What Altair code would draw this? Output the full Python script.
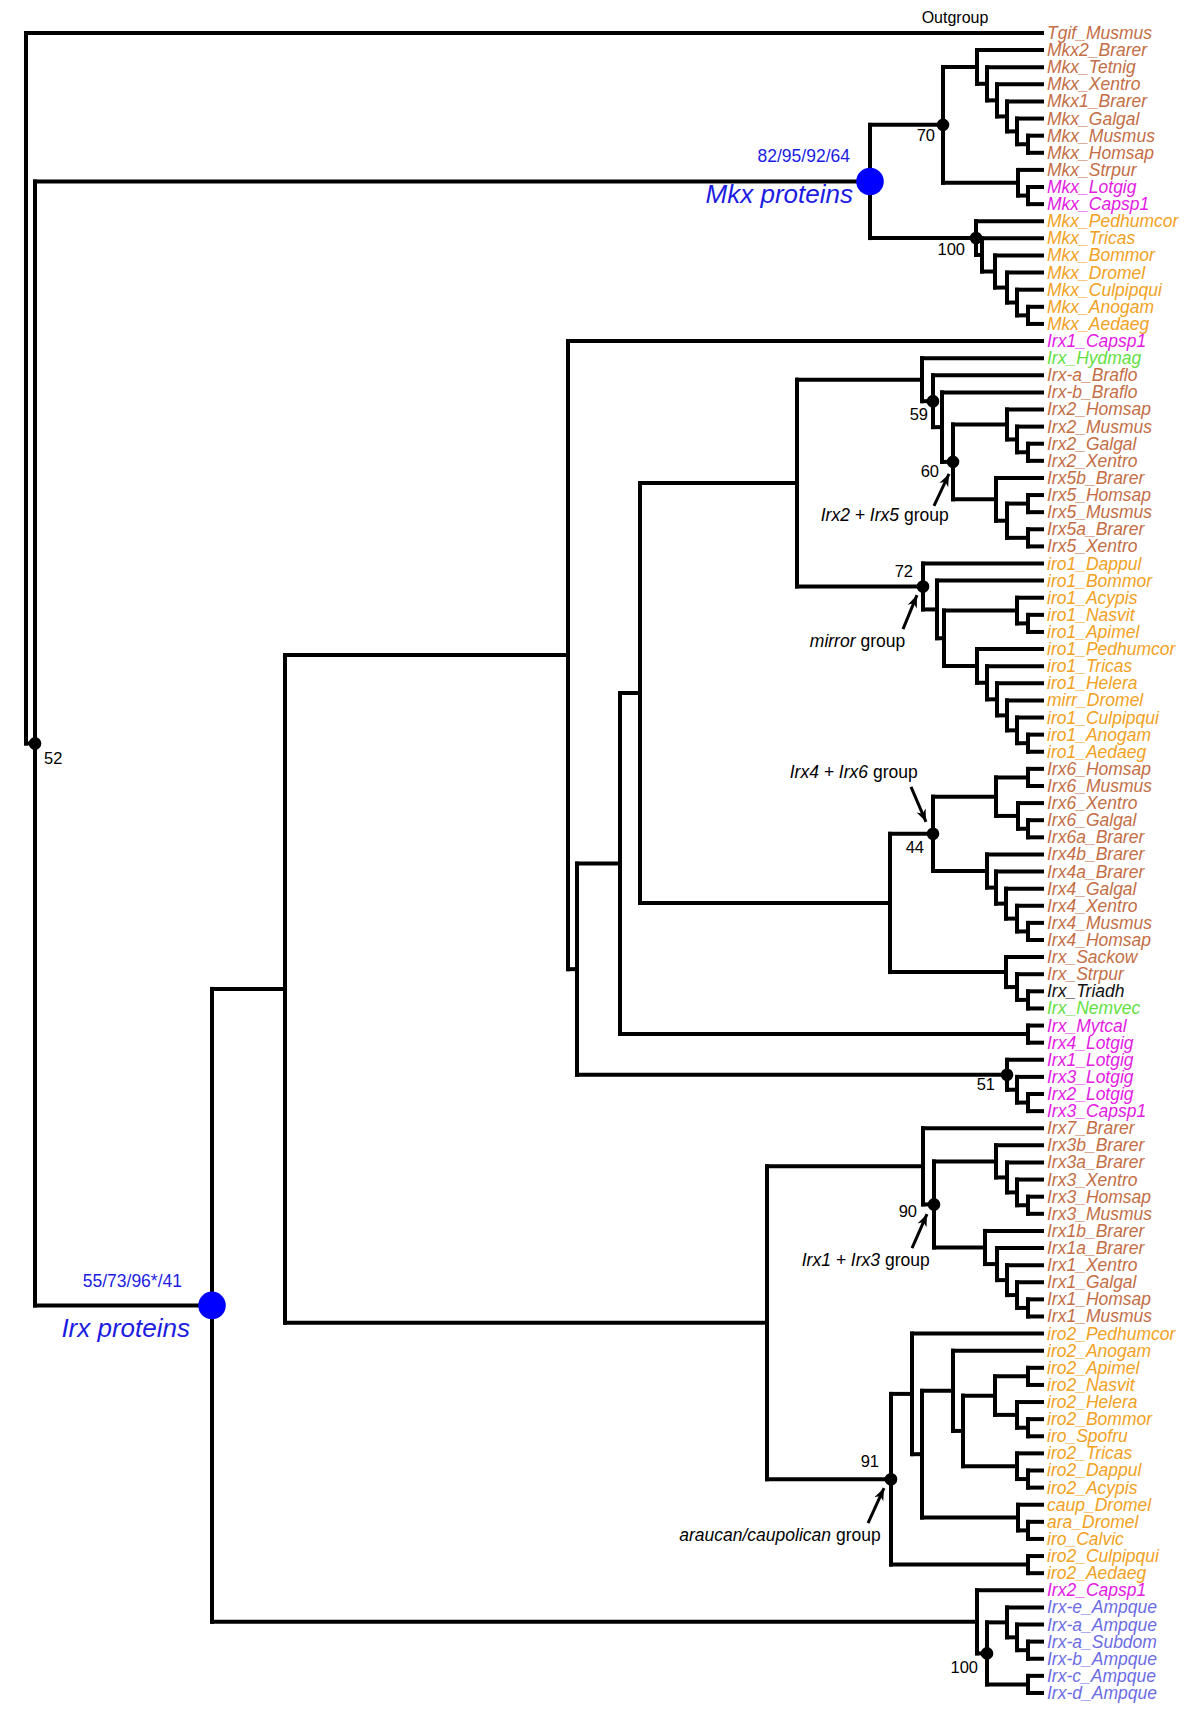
import math
import altair as alt
import pandas as pd

# ---------------- data: tree topology (Newick-like) ----------------
# internal node token = branch-point position [#support value] [$tag]
MKX_UP = "(Mkx2_Brarer,(Mkx_Tetnig,(Mkx_Xentro,(Mkx1_Brarer,(Mkx_Galgal,(Mkx_Musmus,Mkx_Homsap)1028)1017)1007)997)987)977"
MKX_MID = "(Mkx_Strpur,(Mkx_Lotgig,Mkx_Capsp1)1028)1018"
MKX_ARTH = "(Mkx_Pedhumcor,(Mkx_Tricas,(Mkx_Bommor,(Mkx_Dromel,(Mkx_Culpipqui,(Mkx_Anogam,Mkx_Aedaeg)1028)1017)1007)995)982)976#100$m100"
MKX = f"(({MKX_UP},{MKX_MID})943#70,{MKX_ARTH})870$Mkx"

IRX2 = "(Irx2_Homsap,(Irx2_Musmus,(Irx2_Galgal,Irx2_Xentro)1028)1017)1007"
IRX5 = "(Irx5b_Brarer,((Irx5_Homsap,Irx5_Musmus)1028,(Irx5a_Brarer,Irx5_Xentro)1028)1007)996"
N59 = f"(Irx-a_Braflo,(Irx-b_Braflo,({IRX2},{IRX5})953#60$g25)942)933#59"
H = f"(Irx_Hydmag,{N59})922"
IRO1_LADDER = "(iro1_Pedhumcor,(iro1_Tricas,(iro1_Helera,(mirr_Dromel,(iro1_Culpipqui,(iro1_Anogam,iro1_Aedaeg)1028)1017)1007)997)987)977"
N72 = f"(iro1_Dappul,(iro1_Bommor,((iro1_Acypis,(iro1_Nasvit,iro1_Apimel)1028)1017,{IRO1_LADDER})944)937)923#72$mir"
M = f"({H},{N72})797"
IRX6 = "((Irx6_Homsap,Irx6_Musmus)1028,(Irx6_Xentro,(Irx6_Galgal,Irx6a_Brarer)1028)1018)996"
IRX4 = "(Irx4b_Brarer,(Irx4a_Brarer,(Irx4_Galgal,(Irx4_Xentro,(Irx4_Musmus,Irx4_Homsap)1028)1017)1006)996)987"
N = f"(({IRX6},{IRX4})933#44$g46,(Irx_Sackow,(Irx_Strpur,(Irx_Triadh,Irx_Nemvec)1028)1017)1006)890"
Q3 = f"(({M},{N})640,(Irx_Mytcal,Irx4_Lotgig)1028)620"
N51 = "(Irx1_Lotgig,(Irx3_Lotgig,(Irx2_Lotgig,Irx3_Capsp1)1028)1017)1007#51"
Q = f"(Irx1_Capsp1,({Q3},{N51})577)568"
IRX3 = "(Irx3b_Brarer,(Irx3a_Brarer,(Irx3_Xentro,(Irx3_Homsap,Irx3_Musmus)1028)1017)1007)996"
IRX1 = "(Irx1b_Brarer,(Irx1a_Brarer,(Irx1_Xentro,(Irx1_Galgal,(Irx1_Homsap,Irx1_Musmus)1028)1017)1007)997)985"
N13 = f"(Irx7_Brarer,({IRX3},{IRX1})934#90$g13)923"
V = "((iro2_Apimel,iro2_Nasvit)1028,(iro2_Helera,(iro2_Bommor,iro_Spofru)1028)1017)995"
U = "(iro2_Tricas,(iro2_Dappul,iro2_Acypis)1028)1017"
Y = f"((iro2_Anogam,({V},{U})963)953,(caup_Dromel,(ara_Dromel,iro_Calvic)1028)1018)922"
N91 = f"((iro2_Pedhumcor,{Y})912,(iro2_Culpipqui,iro2_Aedaeg)1028)891#91$ara"
R = f"({N13},{N91})767"
SPONGE = "(Irx2_Capsp1,((Irx-e_Ampque,(Irx-a_Ampque,(Irx-a_Subdom,Irx-b_Ampque)1028)1017)1007,(Irx-c_Ampque,Irx-d_Ampque)1028)987#100$s100)977"
IRX = f"((({Q},{R})285),{SPONGE})212$Irx"
TREE = f"(Tgif_Musmus,({MKX},{IRX})35#52)26"
TIP_X = 1042

# species -> taxon group (label colour)
ARTHROPODS = ["Pedhumcor", "Tricas", "Bommor", "Dromel", "Culpipqui", "Anogam", "Aedaeg",
              "Dappul", "Acypis", "Nasvit", "Apimel", "Helera", "Spofru", "Calvic"]
LOPHOTROCHOZOA = ["Capsp1", "Lotgig", "Mytcal"]
CNIDARIA = ["Hydmag", "Nemvec"]
PLACOZOA = ["Triadh"]
SPONGES = ["Ampque", "Subdom"]
GROUPS = ["deut", "arth", "loph", "cnid", "plac", "spon"]
GROUP_COLORS = ["#C46E45", "#F2A122", "#E31BE3", "#63E03F", "#111111", "#6C6CE4"]

# clade names and their bootstrap strings
BLUE_NODES = {"Mkx": ("82/95/92/64", "Mkx proteins"), "Irx": ("55/73/96*/41", "Irx proteins")}
GROUP_NOTES = [  # tag, italic part, plain part
    ("g25", "Irx2 + Irx5", "group"),
    ("mir", "mirror", "group"),
    ("g46", "Irx4 + Irx6", "group"),
    ("g13", "Irx1 + Irx3", "group"),
    ("ara", "araucan/caupolican", "group"),
]
OUTGROUP_TEXT = "Outgroup"

# ---------------- styling / placement offsets (px) ----------------
W, H_ = 1184, 1701
X_DOMAIN = [8, 1192]
Y_DOMAIN = [-1.461, 97.937]
PX_PER_ROW = H_ / (Y_DOMAIN[1] - Y_DOMAIN[0])
FONT = "Liberation Sans"
BLUE = "#0000FF"
BLUE_TXT = "#1C1CE2"
# support label offsets (dx of right edge / left edge for "52", dy of text centre)
SUPPORT_OFFS = {"70": (-8, 11), "m100": (-11, 12), "59": (-5, 14), "60": (-14, 10), "72": (-10, -14),
                "44": (-9, 14), "51": (-12, 10), "90": (-17, 8), "91": (-12, -17), "s100": (-9, 15),
                "52": (9, 16)}
BLUE_OFFS = {"Mkx": ((-20, -19), (-17, 22)), "Irx": ((-30, -18), (-22, 32))}
NOTE_OFFS = {  # text split (dx,dy), arrow tail (dx,dy), arrow head (dx,dy)
    "g25": ((-51.5, 54), (-19, 44), (-4, 12)),
    "mir": ((-65, 55.6), (-20, 42.6), (-6, 8.6)),
    "g46": ((-62.5, -61), (-22, -47), (-7, -12)),
    "g13": ((-51.5, 56.6), (-22, 43.6), (-7, 9.6)),
    "ara": ((-57.5, 56.8), (-23, 43.8), (-7, 8.8)),
}


# ---------------- parse & lay out ----------------
def parse(s):
    s = "".join(s.split())
    pos = 0

    def token():
        nonlocal pos
        st = pos
        while pos < len(s) and s[pos] not in ",()":
            pos += 1
        return s[st:pos]

    def node():
        nonlocal pos
        if s[pos] == "(":
            pos += 1
            ch = [node()]
            while s[pos] == ",":
                pos += 1
                ch.append(node())
            pos += 1
            tok = token()
            n = {"children": ch, "support": None, "tag": None}
            if "$" in tok:
                tok, n["tag"] = tok.split("$")
            if "#" in tok:
                tok, n["support"] = tok.split("#")
            n["x"] = float(tok) if tok else None
            return n
        return {"name": token()}

    return node()


root = parse(TREE)
leaves = []


def layout(n, parent_x=None):
    if "children" not in n:
        n["x"] = TIP_X
        n["row"] = len(leaves)
        leaves.append(n)
        return
    if n["x"] is None:
        n["x"] = parent_x
    for c in n["children"]:
        layout(c, n["x"])
    n["row"] = (n["children"][0]["row"] + n["children"][-1]["row"]) / 2


layout(root)

segs, supports, tags = [], [], {}


def walk(n):
    if "children" not in n:
        return
    rows = [c["row"] for c in n["children"]]
    segs.append({"x": n["x"], "x2": n["x"], "row": min(rows), "row2": max(rows)})
    for c in n["children"]:
        segs.append({"x": n["x"], "x2": c["x"], "row": c["row"], "row2": c["row"]})
        walk(c)
    if n["support"]:
        supports.append(n)
    if n["tag"]:
        tags[n["tag"]] = n


walk(root)


def group_of(name):
    sp = name.split("_")[-1]
    if sp in ARTHROPODS:
        return "arth"
    if sp in LOPHOTROCHOZOA:
        return "loph"
    if sp in CNIDARIA:
        return "cnid"
    if sp in PLACOZOA:
        return "plac"
    if sp in SPONGES:
        return "spon"
    return "deut"


def at(n, dx, dy):
    return n["x"] + dx, n["row"] + dy / PX_PER_ROW


seg_df = pd.DataFrame(segs)
leaf_df = pd.DataFrame([{"x": l["x"], "row": l["row"], "label": l["name"], "grp": group_of(l["name"])} for l in leaves])

sup_left, sup_right, dots = [], [], []
for n in supports:
    dots.append({"x": n["x"], "row": n["row"]})
    key = n["tag"] if n["tag"] in SUPPORT_OFFS else n["support"]
    dx, dy = SUPPORT_OFFS[key]
    x, r = at(n, dx, dy)
    (sup_right if dx > 0 else sup_left).append({"x": x, "row": r, "label": n["support"]})

blue_dots, blue_small, blue_big = [], [], []
for tag, (boot, name) in BLUE_NODES.items():
    n = tags[tag]
    blue_dots.append({"x": n["x"], "row": n["row"]})
    (a, b), (c, d) = BLUE_OFFS[tag]
    x, r = at(n, a, b)
    blue_small.append({"x": x, "row": r, "label": boot})
    x, r = at(n, c, d)
    blue_big.append({"x": x, "row": r, "label": name})

note_it, note_pl, shafts, heads = [], [], [], []
for tag, it, pl in GROUP_NOTES:
    n = tags[tag]
    (sx, sy), (tx, ty), (hx, hy) = NOTE_OFFS[tag]
    x, r = at(n, sx, sy)
    note_it.append({"x": x - 2.5, "row": r, "label": it})
    note_pl.append({"x": x + 2.5, "row": r, "label": pl})
    x1, r1 = at(n, tx, ty)
    x2, r2 = at(n, hx, hy)
    shafts.append({"x": x1, "x2": x2, "row": r1, "row2": r2})
    ang = math.degrees(math.atan2(hx - tx, -(hy - ty))) % 360
    heads.append({"x": x2, "row": r2, "ang": ang})

tg = leaves[0]
og_x, og_r = at(tg, -87, -15)
out_df = pd.DataFrame([{"x": og_x, "row": og_r, "label": OUTGROUP_TEXT}])

XS = alt.Scale(domain=X_DOMAIN, nice=False, zero=False)
YS = alt.Scale(domain=Y_DOMAIN, nice=False, zero=False, reverse=True)
X = alt.X("x:Q", scale=XS, axis=None)
Yc = alt.Y("row:Q", scale=YS, axis=None)

branches = alt.Chart(seg_df).mark_rule(color="black", strokeWidth=4, strokeCap="square").encode(
    x=X, x2="x2:Q", y=Yc, y2="row2:Q")

leaf_txt = alt.Chart(leaf_df).mark_text(align="left", baseline="middle", dx=5, dy=1, font=FONT,
                                       fontSize=17.5, fontStyle="italic").encode(
    x=X, y=Yc, text="label:N",
    color=alt.Color("grp:N", scale=alt.Scale(domain=GROUPS, range=GROUP_COLORS), legend=None))

dot_l = alt.Chart(pd.DataFrame(dots)).mark_circle(size=160, color="black", opacity=1).encode(x=X, y=Yc)
sl = alt.Chart(pd.DataFrame(sup_left)).mark_text(align="right", baseline="middle", font=FONT,
                                                fontSize=16.5, color="black").encode(x=X, y=Yc, text="label:N")
sr = alt.Chart(pd.DataFrame(sup_right)).mark_text(align="left", baseline="middle", font=FONT,
                                                 fontSize=16.5, color="black").encode(x=X, y=Yc, text="label:N")
bd = alt.Chart(pd.DataFrame(blue_dots)).mark_circle(size=760, color=BLUE, opacity=1).encode(x=X, y=Yc)
bs = alt.Chart(pd.DataFrame(blue_small)).mark_text(align="right", baseline="alphabetic", font=FONT,
                                                  fontSize=17.5, color=BLUE_TXT).encode(x=X, y=Yc, text="label:N")
bb = alt.Chart(pd.DataFrame(blue_big)).mark_text(align="right", baseline="alphabetic", font=FONT,
                                                fontSize=26, fontStyle="italic", color=BLUE_TXT).encode(
    x=X, y=Yc, text="label:N")
og = alt.Chart(out_df).mark_text(align="center", baseline="middle", font=FONT, fontSize=16,
                                 color="black").encode(x=X, y=Yc, text="label:N")
ni = alt.Chart(pd.DataFrame(note_it)).mark_text(align="right", baseline="middle", font=FONT, fontSize=17.5,
                                               fontStyle="italic", color="black").encode(x=X, y=Yc, text="label:N")
npl = alt.Chart(pd.DataFrame(note_pl)).mark_text(align="left", baseline="middle", font=FONT, fontSize=17.5,
                                                color="black").encode(x=X, y=Yc, text="label:N")
sh = alt.Chart(pd.DataFrame(shafts)).mark_rule(color="black", strokeWidth=3).encode(
    x=X, x2="x2:Q", y=Yc, y2="row2:Q")
hd = alt.Chart(pd.DataFrame(heads)).mark_point(shape="M0,0L0.75,1.9L0,1.35L-0.75,1.9Z", filled=True,
                                               size=170, color="black", opacity=1, strokeWidth=0).encode(
    x=X, y=Yc, angle=alt.Angle("ang:Q", scale=None))

chart = alt.layer(branches, leaf_txt, dot_l, sl, sr, bd, bs, bb, og, ni, npl, sh, hd).properties(
    width=W, height=H_, padding=0).configure_view(stroke=None)

chart.save("out.html", embed_options={"renderer": "svg", "actions": False})
